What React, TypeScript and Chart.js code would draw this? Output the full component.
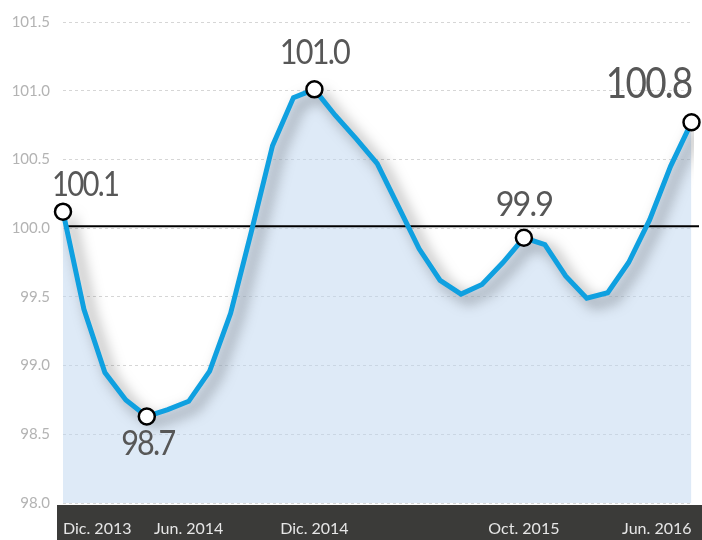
import React, { useEffect, useRef } from "react";
import { Chart, registerables } from "chart.js";

Chart.register(...registerables);

const months: string[] = [
  "Dic. 2013", "Ene. 2014", "Feb. 2014", "Mar. 2014", "Abr. 2014", "May. 2014", "Jun. 2014",
  "Jul. 2014", "Ago. 2014", "Sep. 2014", "Oct. 2014", "Nov. 2014", "Dic. 2014",
  "Ene. 2015", "Feb. 2015", "Mar. 2015", "Abr. 2015", "May. 2015", "Jun. 2015",
  "Jul. 2015", "Ago. 2015", "Sep. 2015", "Oct. 2015", "Nov. 2015", "Dic. 2015",
  "Ene. 2016", "Feb. 2016", "Mar. 2016", "Abr. 2016", "May. 2016", "Jun. 2016",
];

const indexValues: number[] = [
  100.12, 99.41, 98.95, 98.75, 98.63, 98.68, 98.74, 98.96, 99.38, 99.98,
  100.6, 100.95, 101.01, 100.82, 100.65, 100.47, 100.16, 99.85, 99.62, 99.52,
  99.59, 99.75, 99.93, 99.88, 99.65, 99.49, 99.53, 99.75, 100.06, 100.45, 100.77,
];

const shownTicks: string[] = ["Dic. 2013", "Jun. 2014", "Dic. 2014", "Oct. 2015", "Jun. 2016"];
const yTickValues: number[] = [98.0, 98.5, 99.0, 99.5, 100.0, 100.5, 101.0, 101.5];
const markerIndices: number[] = [0, 4, 12, 22, 30];
const markerLabels: string[] = ["100.1", "98.7", "101.0", "99.9", "100.8"];
const baseline = 100.0;

const LINE_BLUE = "#0fa0e0";

export default function App() {
  const ref = useRef<HTMLCanvasElement | null>(null);

  useEffect(() => {
    if (!ref.current) return;
    const markerData = indexValues.map((v, i) => (markerIndices.includes(i) ? v : null));

    const customPlugin = {
      id: "custom",
      beforeDraw(chart: any) {
        const c = chart.ctx;
        c.save();
        c.fillStyle = "#3b3b39";
        c.fillRect(57, chart.chartArea.bottom + 2, chart.width - 57, chart.height - chart.chartArea.bottom - 2);
        c.restore();
      },
      beforeDatasetDraw(chart: any, args: any) {
        if (args.index === 1) {
          const c = chart.ctx;
          c.save();
          c.shadowColor = "rgba(0,0,0,0.5)";
          c.shadowBlur = 14;
          c.shadowOffsetX = 7;
          c.shadowOffsetY = 6;
        }
      },
      afterDatasetDraw(chart: any, args: any) {
        if (args.index === 1) chart.ctx.restore();
        if (args.index === 0) {
          const c = chart.ctx;
          const y = chart.scales.y.getPixelForValue(baseline) - 2;
          c.save();
          c.strokeStyle = "#000";
          c.lineWidth = 2;
          c.beginPath();
          c.moveTo(chart.chartArea.left + 2, y);
          c.lineTo(chart.width - 3, y);
          c.stroke();
          c.restore();
        }
      },
      afterDatasetsDraw(chart: any) {
        const meta = chart.getDatasetMeta(2);
        const c = chart.ctx;
        const offs: [number, number, CanvasTextAlign, number, number][] = [
          [-11, -27, "left", 34, 0.86],
          [1, 28, "center", 34, 0.9],
          [0, -36, "center", 34, 0.9],
          [0, -33, "center", 34, 0.95],
          [0, -38, "right", 42, 0.88],
        ];
        c.save();
        c.fillStyle = "#575757";
        c.textBaseline = "middle";
        markerIndices.forEach((idx, k) => {
          const p = meta.data[idx];
          const [dx, dy, al, size, sx] = offs[k];
          c.save();
          c.translate(p.x + dx, p.y + dy);
          c.scale(sx, 1);
          c.font = `400 ${size}px Lato`;
          (c as any).letterSpacing = "-2px";
          c.textAlign = al;
          c.fillText(markerLabels[k], 0, 0);
          c.restore();
        });
        c.restore();
      },
    };

    const chart = new Chart(ref.current, {
      type: "line",
      data: {
        labels: months,
        datasets: [
          {
            data: indexValues,
            borderWidth: 0,
            borderColor: "rgba(0,0,0,0)",
            backgroundColor: "rgba(190,214,240,0.5)",
            fill: "start",
            pointRadius: 0,
            tension: 0,
            order: 3,
          },
          {
            data: indexValues,
            borderWidth: 5,
            borderColor: LINE_BLUE,
            fill: false,
            pointRadius: 0,
            tension: 0,
            borderJoinStyle: "miter",
            order: 2,
          },
          {
            data: markerData,
            showLine: false,
            pointRadius: 8,
            pointBorderWidth: 2.5,
            pointBackgroundColor: "#ffffff",
            pointBorderColor: "#000000",
            order: 1,
          },
        ],
      },
      options: {
        animation: false,
        responsive: false,
        layout: { padding: { top: 20, right: 8, left: 0, bottom: 0 } },
        plugins: { legend: { display: false }, tooltip: { enabled: false } },
        scales: {
          x: {
            grid: { display: false },
            border: { display: false },
            afterFit: (s: any) => { s.height = 37; },
            ticks: {
              autoSkip: false,
              maxRotation: 0,
              align: "inner",
              padding: 8,
              color: "#e6e6e6",
              font: { family: "Lato", size: 16 },
              callback: (_v: any, i: number) => (shownTicks.includes(months[i]) ? months[i] : ""),
            },
          },
          y: {
            min: 98,
            max: 101.5,
            afterFit: (s: any) => { s.width = 63; },
            afterBuildTicks: (s: any) => { s.ticks = yTickValues.map((v) => ({ value: v })); },
            border: { display: false, dash: [3, 3] },
            grid: { color: "#d6d6d6", lineWidth: 1, drawTicks: false },
            ticks: {
              padding: 13,
              color: "#b3b3b3",
              font: { family: "Lato", size: 15 },
              callback: (v: any) => Number(v).toFixed(1),
            },
          },
        },
      } as any,
      plugins: [customPlugin],
    });
    return () => chart.destroy();
  }, []);

  return (
    <div style={{ position: "fixed", left: 0, top: 0, width: 702, height: 540, background: "#fff" }}>
      <canvas ref={ref} width={702} height={540} style={{ width: 702, height: 540 }} />
    </div>
  );
}
